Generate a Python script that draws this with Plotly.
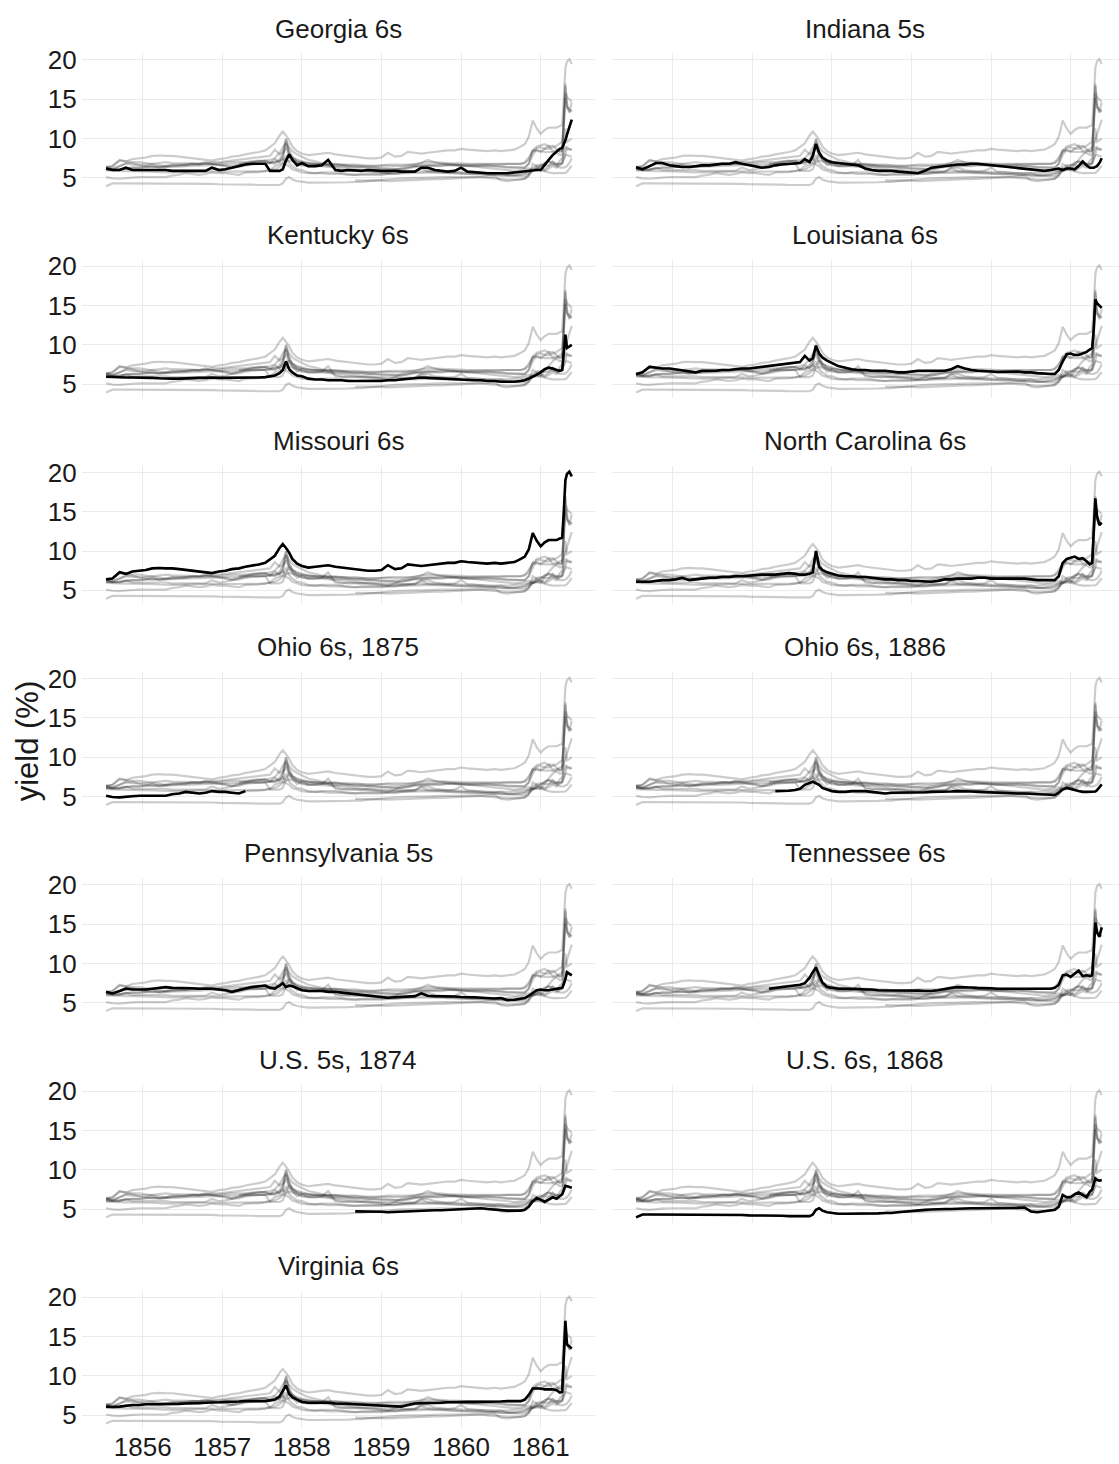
import plotly.graph_objects as go

# ---- time grid (decimal years) ----
T_A = [1855.54, 1855.62, 1855.71, 1855.79, 1855.87, 1855.96, 1856.04, 1856.12, 1856.21, 1856.29,
       1856.37, 1856.46, 1856.54, 1856.62, 1856.71, 1856.79, 1856.87, 1856.96, 1857.04, 1857.12,
       1857.21, 1857.29, 1857.37, 1857.46, 1857.54]
T_B = [1857.60, 1857.66, 1857.72, 1857.76, 1857.80, 1857.84, 1857.88, 1857.94, 1858.00]
T_C = [1858.08, 1858.17, 1858.25, 1858.33, 1858.42, 1858.50, 1858.58, 1858.67, 1858.75, 1858.83,
       1858.92, 1859.00, 1859.08, 1859.17, 1859.25, 1859.33, 1859.42, 1859.50, 1859.58, 1859.67,
       1859.75, 1859.83, 1859.92, 1860.00, 1860.08, 1860.17, 1860.25, 1860.33, 1860.42, 1860.50,
       1860.58, 1860.67, 1860.75]
T_D = [1860.80, 1860.85, 1860.90, 1860.95, 1861.00, 1861.05, 1861.10, 1861.15, 1861.20, 1861.24,
       1861.27, 1861.29, 1861.31, 1861.33, 1861.36, 1861.39]
T = T_A + T_B + T_C + T_D

N = None
bond_names = ["Georgia 6s", "Indiana 5s", "Kentucky 6s", "Louisiana 6s", "Missouri 6s",
              "North Carolina 6s", "Ohio 6s, 1875", "Ohio 6s, 1886", "Pennsylvania 5s",
              "Tennessee 6s", "U.S. 5s, 1874", "U.S. 6s, 1868", "Virginia 6s"]

georgia = ([6.2, 6.0, 6.0, 6.3, 6.0, 6.0, 6.0, 6.0, 6.0, 6.0, 5.9, 5.9, 5.9, 5.9, 5.9, 5.9, 6.3, 6.0, 6.1, 6.3, 6.5, 6.7, 6.8, 6.8, 6.8]
           + [5.9, 5.9, 5.9, 6.1, 7.2, 8.0, 7.3, 6.6, 6.9]
           + [6.5, 6.5, 6.6, 7.3, 6.0, 5.9, 6.0, 5.9, 5.9, 6.0, 5.9, 5.9, 5.9, 5.9, 5.8, 5.8, 5.8, 6.3, 6.3, 6.0,
              5.9, 5.8, 5.9, 6.3, 5.8, 5.7, 5.6, 5.6, 5.6, 5.6, 5.6, 5.7, 5.8]
           + [5.85, 5.9, 6.0, 6.0, 6.0, 6.7, 7.3, 7.9, 8.4, 8.7, 8.8, 9.2, 9.8, 10.5, 11.5, 12.4])
indiana = ([6.35, 6.1, 6.5, 6.9, 6.9, 6.6, 6.5, 6.4, 6.4, 6.5, 6.6, 6.6, 6.7, 6.8, 6.8, 7.0, 6.8, 6.6, 6.4, 6.3, 6.4, 6.6, 6.7, 6.8, 6.9]
           + [6.9, 7.4, 7.0, 7.8, 9.3, 8.2, 7.6, 7.2, 7.0]
           + [6.9, 6.8, 6.7, 6.6, 6.2, 6.0, 5.9, 5.9, 5.9, 5.8, 5.7, 5.6, 5.6, 5.9, 6.3, 6.4, 6.5, 6.6, 6.7, 6.7,
              6.8, 6.8, 6.7, 6.6, 6.6, 6.5, 6.4, 6.3, 6.2, 6.1, 6.0, 5.9, 6.0]
           + [6.1, 6.2, 6.0, 6.2, 6.2, 6.1, 6.5, 7.1, 6.6, 6.3, 6.3, 6.3, 6.4, 6.5, 6.9, 7.5])
kentucky = ([5.95, 5.9, 5.9, 5.85, 5.85, 5.85, 5.85, 5.8, 5.75, 5.7, 5.7, 5.7, 5.75, 5.8, 5.8, 5.8, 5.85, 5.8, 5.8, 5.8, 5.8, 5.8, 5.8, 5.85, 5.9]
            + [6.0, 6.1, 6.4, 6.8, 7.9, 6.9, 6.5, 6.1, 6.0]
            + [5.7, 5.6, 5.6, 5.5, 5.5, 5.5, 5.4, 5.4, 5.4, 5.4, 5.4, 5.4, 5.5, 5.5, 5.6, 5.7, 5.8, 5.85, 5.8, 5.75,
               5.7, 5.6, 5.6, 5.6, 5.55, 5.5, 5.5, 5.4, 5.4, 5.3, 5.3, 5.3, 5.4]
            + [5.5, 5.7, 5.9, 6.2, 6.5, 6.9, 7.1, 7.0, 6.8, 6.7, 6.8, 9.0, 11.3, 9.6, 9.8, 10.0])
louisiana = ([6.27, 6.5, 7.2, 7.1, 7.0, 7.0, 6.9, 6.8, 6.6, 6.5, 6.7, 6.7, 6.7, 6.8, 6.8, 6.9, 7.0, 7.0, 7.1, 7.2, 7.3, 7.4, 7.5, 7.6, 7.7]
             + [7.8, 8.6, 8.0, 8.3, 9.9, 8.9, 8.4, 8.0, 7.7]
             + [7.3, 7.1, 6.9, 6.8, 6.8, 6.7, 6.7, 6.7, 6.6, 6.5, 6.5, 6.6, 6.7, 6.7, 6.7, 6.7, 6.7, 6.9, 7.3, 7.0,
                6.8, 6.7, 6.6, 6.6, 6.55, 6.55, 6.6, 6.6, 6.5, 6.5, 6.4, 6.3, 6.3]
             + [6.3, 6.8, 7.9, 8.8, 8.9, 8.7, 8.7, 8.9, 9.1, 9.4, 9.6, 12.0, 15.8, 15.3, 15.0, 14.7])
missouri = ([6.4, 6.5, 7.3, 7.1, 7.4, 7.5, 7.6, 7.8, 7.85, 7.8, 7.8, 7.7, 7.6, 7.5, 7.4, 7.3, 7.2, 7.4, 7.5, 7.7, 7.8, 8.0, 8.1, 8.3, 8.5]
            + [8.9, 9.4, 10.4, 10.9, 10.4, 9.8, 9.0, 8.4, 8.1]
            + [7.9, 8.0, 8.1, 8.2, 8.0, 7.9, 7.8, 7.7, 7.6, 7.5, 7.5, 7.6, 8.2, 7.7, 7.8, 8.3, 8.2, 8.1, 8.2, 8.3,
               8.4, 8.5, 8.5, 8.7, 8.6, 8.5, 8.4, 8.4, 8.5, 8.4, 8.5, 8.6, 9.0]
            + [9.3, 10.2, 12.3, 11.3, 10.6, 11.1, 11.4, 11.4, 11.4, 11.6, 11.7, 15.0, 19.0, 19.8, 20.1, 19.5])
north_carolina = ([6.1, 6.1, 6.1, 6.2, 6.3, 6.3, 6.4, 6.6, 6.3, 6.4, 6.5, 6.6, 6.6, 6.7, 6.7, 6.8, 6.8, 6.9, 6.9, 7.0, 7.0, 7.0, 7.1, 7.2, 7.1]
                  + [7.0, 7.0, 7.1, 7.3, 10.0, 8.0, 7.6, 7.3, 7.1]
                  + [6.9, 6.8, 6.8, 6.7, 6.7, 6.6, 6.5, 6.4, 6.4, 6.3, 6.3, 6.2, 6.2, 6.1, 6.1, 6.2, 6.4, 6.4, 6.5, 6.5,
                     6.5, 6.6, 6.6, 6.5, 6.5, 6.5, 6.5, 6.5, 6.5, 6.4, 6.3, 6.3, 6.3]
                  + [6.3, 6.8, 8.5, 9.0, 9.2, 9.3, 9.0, 9.1, 8.7, 8.3, 8.5, 12.0, 16.7, 14.5, 13.3, 13.6])
ohio_1875 = ([5.1, 4.95, 4.9, 5.0, 5.05, 5.1, 5.1, 5.05, 5.05, 5.1, 5.3, 5.4, 5.6, 5.55, 5.4, 5.5, 5.7, 5.6, 5.6, 5.5, 5.4, 5.7, N, N, N]
             + [N] * 9 + [N] * 33 + [N] * 16)
ohio_1886 = ([N] * 21 + [5.7, 5.7, 5.75, 5.85]
             + [6.0, 6.5, 6.7, 6.9, 6.7, 6.5, 6.1, 5.85, 5.7]
             + [5.6, 5.6, 5.7, 5.7, 5.7, 5.6, 5.5, 5.4, 5.5, 5.5, 5.5, 5.5, 5.5, 5.55, 5.6, 5.6, 5.6, 5.65, 5.7, 5.7,
                5.65, 5.6, 5.55, 5.55, 5.5, 5.5, 5.45, 5.4, 5.4, 5.35, 5.3, 5.25, 5.2]
             + [5.2, 5.5, 5.9, 6.1, 6.0, 5.85, 5.7, 5.6, 5.6, 5.6, 5.6, 5.6, 5.65, 5.8, 6.2, 6.55])
pennsylvania = ([6.4, 6.2, 6.5, 6.8, 6.7, 6.7, 6.7, 6.8, 6.9, 7.0, 6.9, 6.9, 6.9, 6.85, 6.8, 6.8, 6.8, 6.7, 6.6, 6.4, 6.6, 6.8, 7.0, 7.1, 7.2]
                + [6.9, 6.8, 7.2, 7.5, 7.0, 7.2, 7.1, 6.9, 6.6]
                + [6.5, 6.5, 6.5, 6.4, 6.4, 6.3, 6.2, 6.1, 6.0, 5.95, 5.8, 5.7, 5.65, 5.7, 5.75, 5.8, 5.85, 6.2, 5.9, 5.85,
                   5.85, 5.85, 5.8, 5.75, 5.75, 5.7, 5.65, 5.6, 5.55, 5.6, 5.35, 5.4, 5.5]
                + [5.6, 5.9, 6.3, 6.6, 6.7, 6.6, 6.6, 6.7, 6.8, 6.8, 6.9, 7.4, 8.0, 8.9, 8.7, 8.5])
tennessee = ([N] * 20 + [6.8, 6.9, 7.0, 7.1, 7.2]
             + [7.3, 7.5, 8.2, 8.9, 9.5, 8.5, 7.6, 7.0, 6.9]
             + [6.8, 6.8, 6.8, 6.75, 6.7, 6.7, 6.6, 6.6, 6.6, 6.6, 6.6, 6.6, 6.55, 6.5, 6.5, 6.6, 6.8, 6.9, 7.0, 7.0,
                6.95, 6.9, 6.9, 6.85, 6.8, 6.8, 6.8, 6.8, 6.8, 6.8, 6.8, 6.8, 6.8]
             + [6.9, 7.3, 8.5, 8.6, 8.3, 8.7, 9.1, 8.4, 8.5, 8.4, 8.5, 11.5, 15.2, 14.0, 13.4, 14.6])
us_5s_1874 = ([N] * 25 + [N] * 9
              + [N] * 7 + [4.7, 4.7, 4.7, 4.7, 4.65, 4.6, 4.65, 4.7, 4.7, 4.75, 4.8, 4.8, 4.85, 4.85, 4.9, 4.9,
                           4.95, 5.0, 5.05, 5.1, 5.0, 4.9, 4.85, 4.8, 4.8, 4.8]
              + [4.9, 5.3, 6.0, 6.4, 6.2, 5.9, 6.2, 6.5, 6.3, 6.6, 6.9, 7.4, 7.95, 7.9, 7.8, 7.7])
us_6s_1868 = ([3.95, 4.3, 4.3, 4.3, 4.3, 4.3, 4.3, 4.3, 4.3, 4.3, 4.3, 4.3, 4.3, 4.3, 4.25, 4.25, 4.25, 4.2, 4.2, 4.2, 4.15, 4.15, 4.15, 4.1, 4.1]
              + [4.1, 4.1, 4.1, 4.3, 4.9, 5.1, 4.8, 4.6, 4.5]
              + [4.4, 4.4, 4.4, 4.4, 4.4, 4.45, 4.45, 4.5, 4.5, 4.6, 4.7, 4.8, 4.85, 4.9, 4.95, 5.0, 5.0, 5.0, 5.05, 5.05,
                 5.1, 5.1, 5.1, 5.1, 5.1, 5.1, 5.15, 5.15, 5.2, 4.7, 4.6, 4.7, 4.8]
              + [4.9, 5.3, 6.8, 6.5, 6.5, 6.9, 7.1, 6.8, 6.5, 7.2, 7.5, 8.2, 8.9, 8.7, 8.6, 8.7])
virginia = ([6.1, 6.05, 6.1, 6.2, 6.3, 6.3, 6.4, 6.4, 6.4, 6.4, 6.4, 6.45, 6.5, 6.5, 6.55, 6.6, 6.6, 6.65, 6.7, 6.7, 6.75, 6.8, 6.8, 6.8, 6.8]
            + [6.9, 7.0, 7.4, 8.2, 8.8, 7.7, 7.3, 7.0, 6.7]
            + [6.6, 6.6, 6.6, 6.6, 6.5, 6.5, 6.45, 6.4, 6.35, 6.3, 6.25, 6.2, 6.2, 6.15, 6.1, 6.3, 6.5, 6.55, 6.55, 6.6,
               6.6, 6.65, 6.7, 6.7, 6.7, 6.7, 6.7, 6.7, 6.7, 6.75, 6.8, 6.8, 6.8]
            + [7.0, 7.6, 8.4, 8.4, 8.4, 8.3, 8.3, 8.3, 8.2, 7.9, 8.0, 12.5, 17.0, 14.0, 13.7, 13.5])

series = [georgia, indiana, kentucky, louisiana, missouri, north_carolina, ohio_1875, ohio_1886,
          pennsylvania, tennessee, us_5s_1874, us_6s_1868, virginia]
for nm, s in zip(bond_names, series):
    assert len(s) == len(T), (nm, len(s), len(T))

year_ticks = [1856, 1857, 1858, 1859, 1860, 1861]
yield_ticks = [5, 10, 15, 20]

# ---- layout geometry (pixels) ----
W, H = 1119, 1464
FONT = "Liberation Sans, Arial, Helvetica, sans-serif"
col_x = [(81.7, 595.0), (611.7, 1119.0)]
x_ranges = [[1855.234, 1861.682], [1855.234, 1861.607]]
row_top0, row_h, row_step = 45.7, 139.3, 207.5
y_range = [3.23, 20.83]

fig = go.Figure()
layout = dict(width=W, height=H, margin=dict(l=0, r=0, t=0, b=0),
              paper_bgcolor="white", plot_bgcolor="white", showlegend=False,
              font=dict(family=FONT, color="#1a1a1a"))
annotations = []

for i, (name, hl) in enumerate(zip(bond_names, series)):
    r, c = divmod(i, 2)
    k = "" if i == 0 else str(i + 1)
    top = row_top0 + r * row_step
    bot = top + row_h
    x0, x1 = col_x[c]
    is_bottom = (i == len(bond_names) - 1)
    layout["xaxis" + k] = dict(domain=[x0 / W, x1 / W], range=x_ranges[c], anchor="y" + k,
                               tickvals=year_ticks, showticklabels=is_bottom, ticks="",
                               showgrid=True, gridcolor="#EBEBEB", gridwidth=1.1,
                               zeroline=False, showline=False, fixedrange=True,
                               tickfont=dict(size=26, color="#1a1a1a", family=FONT))
    layout["yaxis" + k] = dict(domain=[1 - bot / H, 1 - top / H], range=y_range, anchor="x" + k,
                               tickvals=yield_ticks, showticklabels=(c == 0), ticks="",
                               ticklabelstandoff=4,
                               showgrid=True, gridcolor="#EBEBEB", gridwidth=1.1,
                               zeroline=False, showline=False, fixedrange=True,
                               tickfont=dict(size=26, color="#1a1a1a", family=FONT))
    for s in series:
        fig.add_trace(go.Scatter(x=T, y=s, mode="lines", xaxis="x" + k, yaxis="y" + k,
                                 line=dict(color="rgba(0,0,0,0.2)", width=2.2),
                                 connectgaps=False, hoverinfo="skip"))
    fig.add_trace(go.Scatter(x=T, y=hl, mode="lines", xaxis="x" + k, yaxis="y" + k,
                             line=dict(color="black", width=2.6), connectgaps=False, name=name))
    annotations.append(dict(text=name, x=(x0 + x1) / 2 / W, y=1 - (top - 25) / H,
                            xref="paper", yref="paper", xanchor="center", yanchor="middle",
                            showarrow=False, font=dict(size=26, color="#1a1a1a", family=FONT)))

annotations.append(dict(text="yield (%)", x=27 / W, y=1 - 737.9 / H, xref="paper", yref="paper",
                        xanchor="center", yanchor="middle", textangle=-90, showarrow=False,
                        font=dict(size=31, color="#1a1a1a", family=FONT)))
layout["annotations"] = annotations
fig.update_layout(**layout)
fig.write_html("out.html")
